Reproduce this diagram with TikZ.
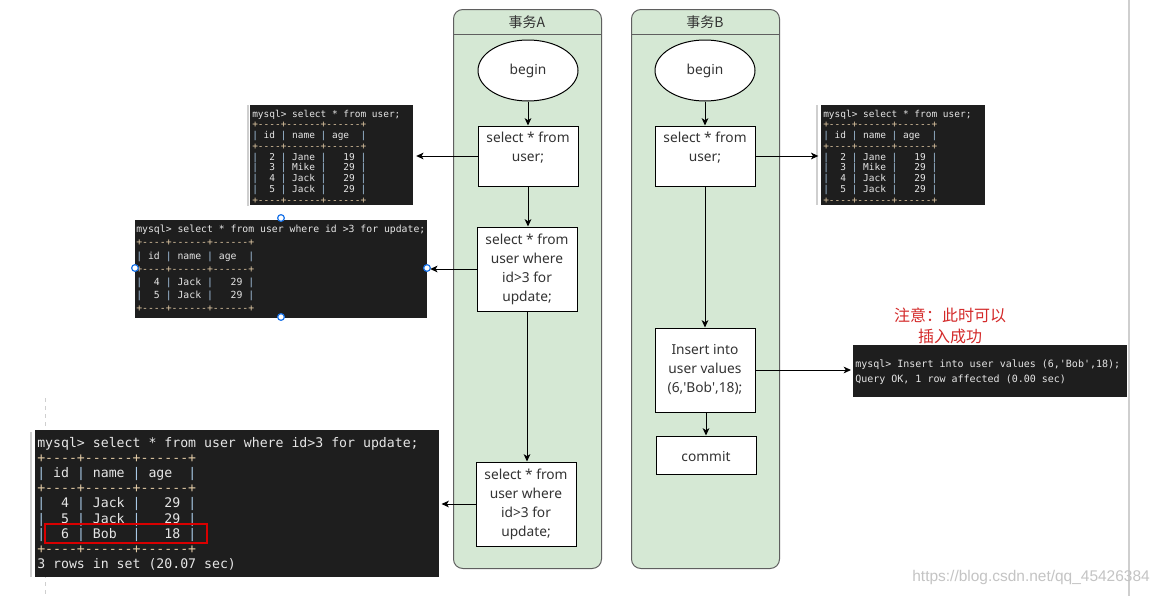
\documentclass[tikz,border=0pt]{standalone}
\usepackage{fontspec}
\setmonofont{DejaVu Sans Mono}
\newfontfamily\boxfont{Noto Sans}
\newfontfamily\cjk{Noto Sans CJK SC}
\newfontfamily\wmfont{Liberation Sans}
\usetikzlibrary{shapes.geometric,arrows.meta}
\definecolor{lanefill}{HTML}{D5E8D4}
\definecolor{lanedraw}{HTML}{5F5F5F}
\definecolor{boxtext}{HTML}{333333}
\definecolor{termbg}{HTML}{1E1E1E}
\definecolor{termfg}{HTML}{E6E6E6}
\definecolor{bordc}{HTML}{E3CBA6}
\definecolor{pipec}{HTML}{A9C9E6}
\definecolor{notered}{HTML}{D42A2A}
\definecolor{handleblue}{HTML}{1A73E8}
\definecolor{wmgray}{HTML}{C4C4C4}
\definecolor{sidegray}{HTML}{CFCFCF}
\newcommand\pp{\textcolor{pipec}{|}}
\newcommand\bl[1]{\textcolor{bordc}{#1}}
\begin{document}
\begin{tikzpicture}[x=0.75pt,y=-0.75pt,
  lane/.style={draw=lanedraw, fill=lanefill, line width=0.75pt, rounded corners=7pt, anchor=north west, inner sep=0pt, minimum width=111pt, minimum height=419.25pt},
  lanetitle/.style={font=\cjk\fontsize{10.5}{12}\selectfont, text=boxtext, inner sep=0pt},
  box/.style={draw=black, fill=white, line width=0.75pt, inner sep=0pt, align=center, text=boxtext, font=\boxfont\fontsize{10.3}{14.25}\selectfont, minimum width=75pt},
  startnode/.style={ellipse, draw=black, fill=white, line width=0.75pt, inner sep=0pt, text=boxtext, font=\boxfont\fontsize{10.3}{14.25}\selectfont, minimum width=75pt, minimum height=45.75pt},
  arr/.style={draw=black, line width=0.75pt, -{Stealth[length=5.5pt,width=5pt,inset=1.5pt]}},
  term/.style={fill=termbg, draw=none, anchor=north west, inner sep=0pt},
  termtxt/.style={anchor=base west, inner sep=0pt, text=termfg, font=\ttfamily\frenchspacing\fontsize{#1}{#1}\selectfont},
  handle/.style={circle, draw=handleblue, fill=white, line width=0.9pt, inner sep=0pt, minimum size=5pt}
]
\useasboundingbox[fill=white] (0,0) rectangle (1160,596);

% side artifacts
\draw[sidegray, line width=1.5pt] (1129,0) -- (1129,596);
\draw[sidegray, line width=0.75pt, dashed] (45,398) -- (45,596);
\draw[sidegray, line width=1.5pt] (31,432) -- (31,577);
\draw[sidegray, line width=1pt] (248,105) -- (248,206);
\draw[sidegray, line width=1pt] (817,105) -- (817,205);

% swimlanes
\node[lane] (laneA) at (453,9) {};
\node[lane] (laneB) at (631,9) {};
\coordinate (hA) at (453,34);
\coordinate (hB) at (631,34);
\draw[lanedraw, line width=0.75pt] (hA) -- ++(148,0);
\draw[lanedraw, line width=0.75pt] (hB) -- ++(148,0);
\node[lanetitle] (tA) at (527,22) {事务A};
\node[lanetitle] (tB) at (705,22) {事务B};

% transaction A
\node[startnode] (bA) at (528,70.5) {begin};
\node[box, minimum height=45pt] (a1) at (528,156) {select * from\\user;\\\mbox{}};
\node[box, minimum height=63pt] (a2) at (527,269) {select * from\\user where\\id>3 for\\update;};
\node[box, minimum height=63pt] (a3) at (526,504) {select * from\\user where\\id>3 for\\update;};

% transaction B
\node[startnode] (bB) at (705,70.5) {begin};
\node[box, minimum height=45pt] (b1) at (705,156) {select * from\\user;\\\mbox{}};
\node[box, minimum height=63pt] (b2) at (705,370) {Insert into\\user values\\(6,'Bob',18);};
\node[box, minimum height=28.5pt, text depth=0pt, text height=9pt] (b3) at (706,455) {commit};

\draw[arr] (bA) -- (a1);
\draw[arr] (a1) -- (a1.south |- a2.north);
\draw[arr] (a2.south) -- (a2.south |- a3.north);
\draw[arr] (bB) -- (b1);
\draw[arr] (b1) -- (b2);
\draw[arr] (b2.south -| b3.north) -- (b3.north);

% terminal screenshots
\node[term, minimum width=122.25pt, minimum height=75pt] (s1) at (250,105) {};
\node[term, minimum width=219pt, minimum height=73.5pt] (s2) at (135,220) {};
\node[term, minimum width=303pt, minimum height=110.25pt] (s3) at (35,430) {};
\node[term, minimum width=123pt, minimum height=75pt] (s4) at (821,105) {};
\node[term, minimum width=205.5pt, minimum height=39pt] (s5) at (853,345) {};

\draw[arr, shorten >=2pt] (a1.west) -- (a1.west -| s1.east);
\draw[arr, shorten >=2pt] (a2.west) -- (a2.west -| s2.east);
\draw[arr, shorten >=1.5pt] (a3.west) -- (a3.west -| s3.east);
\draw[arr, shorten >=2pt] (b1.east) -- (b1.east -| s4.west);
\draw[arr, shorten >=1.5pt] (b2.east) -- (b2.east -| s5.west);

% screenshot 1
\foreach \t [count=\i] in {
  {mysql>~select~*~from~user;},
  {\bl{+----+------+------+}},
  {\pp~id~\pp~name~\pp~age~~\pp},
  {\bl{+----+------+------+}},
  {\pp~~2~\pp~Jane~\pp~~~19~\pp},
  {\pp~~3~\pp~Mike~\pp~~~29~\pp},
  {\pp~~4~\pp~Jack~\pp~~~29~\pp},
  {\pp~~5~\pp~Jack~\pp~~~29~\pp},
  {\bl{+----+------+------+}}}
  \node[termtxt=7.1] (s1-\i) at (252,{117+10.75*(\i-1)}) {\t};

% screenshot 4
\foreach \t [count=\i] in {
  {mysql>~select~*~from~user;},
  {\bl{+----+------+------+}},
  {\pp~id~\pp~name~\pp~age~~\pp},
  {\bl{+----+------+------+}},
  {\pp~~2~\pp~Jane~\pp~~~19~\pp},
  {\pp~~3~\pp~Mike~\pp~~~29~\pp},
  {\pp~~4~\pp~Jack~\pp~~~29~\pp},
  {\pp~~5~\pp~Jack~\pp~~~29~\pp},
  {\bl{+----+------+------+}}}
  \node[termtxt=7.1] (s4-\i) at (823,{117+10.75*(\i-1)}) {\t};

% screenshot 2
\foreach \t [count=\i] in {
  {mysql>~select~*~from~user~where~id~>3~for~update;},
  {\bl{+----+------+------+}},
  {\pp~id~\pp~name~\pp~age~~\pp},
  {\bl{+----+------+------+}},
  {\pp~~4~\pp~Jack~\pp~~~29~\pp},
  {\pp~~5~\pp~Jack~\pp~~~29~\pp},
  {\bl{+----+------+------+}}}
  \node[termtxt=7.35] (s2-\i) at (136,{232.8+13.1*(\i-1)}) {\t};

% screenshot 3
\foreach \t [count=\i] in {
  {mysql>~select~*~from~user~where~id>3~for~update;},
  {\bl{+----+------+------+}},
  {\pp~id~\pp~name~\pp~age~~\pp},
  {\bl{+----+------+------+}},
  {\pp~~4~\pp~Jack~\pp~~~29~\pp},
  {\pp~~5~\pp~Jack~\pp~~~29~\pp},
  {\pp~~6~\pp~Bob~~\pp~~~18~\pp},
  {\bl{+----+------+------+}},
  {3~rows~in~set~(20.07~sec)}}
  \node[termtxt=9.9] (s3-\i) at (37,{447.5+15.1*(\i-1)}) {\t};
\draw[red!85!black, line width=1.5pt] (45,524) rectangle (207,543);

% screenshot 5
\node[termtxt=7.5] (s5-1) at (855,367.7) {mysql>~Insert~into~user~values~(6,'Bob',18);};
\node[termtxt=7.5] (s5-2) at (855,382.7) {Query~OK,~1~row~affected~(0.00~sec)};

% selection handles
\node[handle] (h1) at (281,218) {};
\node[handle] (h2) at (135,268) {};
\node[handle] (h3) at (427,268) {};
\node[handle] (h4) at (281,317) {};

% note
\node[font=\cjk\fontsize{12}{15.75}\selectfont, text=notered, align=center, inner sep=0pt] (note) at (950,325.5) {注意：此时可以\\插入成功};

% watermark
\node[anchor=east, inner sep=0pt, font=\wmfont\fontsize{11.6}{12}\selectfont, text=wmgray] (wm) at (1150,577) {https://blog.csdn.net/qq\_45426384};
\end{tikzpicture}
\end{document}
